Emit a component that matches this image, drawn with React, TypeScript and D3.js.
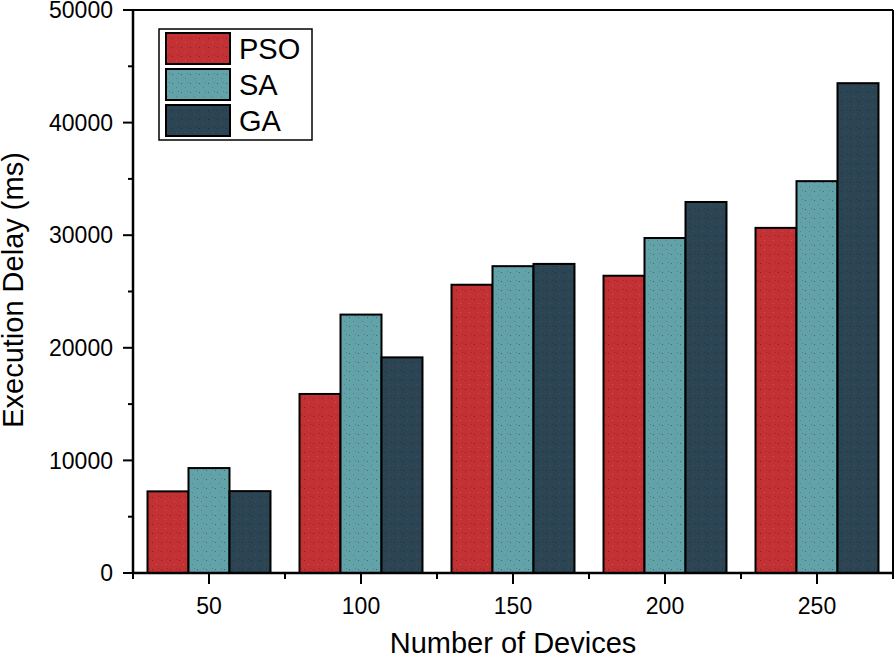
import React from "react";
import * as d3 from "d3";

const categories = ["50", "100", "150", "200", "250"];
const seriesNames = ["PSO", "SA", "GA"];
const psoValues = [7250, 15900, 25600, 26400, 30650];
const saValues = [9320, 22950, 27250, 29750, 34800];
const gaValues = [7270, 19150, 27450, 32950, 43500];
const yTicks = [0, 10000, 20000, 30000, 40000, 50000];
const yMinorTicks = [5000, 15000, 25000, 35000, 45000];
const colors = ["#c43134", "#62a2a9", "#2c4555"];

const W = 895, H = 657;
const M = { left: 133, right: 893, top: 10, bottom: 573 };
const FONT = "'Liberation Sans', Arial, Helvetica, sans-serif";

export default function App() {
  const allSeries = [psoValues, saValues, gaValues];
  const x = d3.scaleBand<string>().domain(categories).range([M.left, M.right]).paddingInner(0).paddingOuter(0);
  const xs = d3.scaleBand<string>().domain(seriesNames).range([0, x.bandwidth()]).paddingInner(0).paddingOuter(0.354);
  const y = d3.scaleLinear().domain([0, 50000]).range([M.bottom, M.top]);
  const step = x.step();
  const minorX = d3.range(categories.length + 1).map((i) => M.left + i * step);

  return (
    <svg width={W} height={H} style={{ position: "absolute", left: 0, top: 0, background: "#fff" }} fontFamily={FONT}>
      <defs>
        {colors.map((c, i) => (
          <pattern key={i} id={`pat${i}`} width={9} height={9} patternUnits="userSpaceOnUse">
            <rect width={9} height={9} fill={c} />
            <rect x={1} y={2} width={1} height={1} fill="#000" opacity={0.35} />
            <rect x={5} y={6} width={1} height={1} fill={i === 0 ? "#5fa0a6" : "#c43134"} opacity={0.5} />
            <rect x={7} y={1} width={1} height={1} fill="#000" opacity={0.2} />
          </pattern>
        ))}
      </defs>

      {/* bars */}
      {categories.map((cat, ci) => (
        <g key={cat} transform={`translate(${x(cat)},0)`}>
          {seriesNames.map((s, si) => {
            const v = allSeries[si][ci];
            return (
              <rect
                key={s}
                x={xs(s)}
                y={y(v)}
                width={xs.bandwidth()}
                height={y(0) - y(v)}
                fill={`url(#pat${si})`}
                stroke="#000"
                strokeWidth={2}
              />
            );
          })}
        </g>
      ))}

      {/* frame */}
      <line x1={M.left} x2={M.right} y1={M.top} y2={M.top} stroke="#000" strokeWidth={2} />
      <line x1={M.right} x2={M.right} y1={M.top} y2={M.bottom} stroke="#000" strokeWidth={2} />
      <line x1={M.left} x2={M.left} y1={M.top - 1} y2={M.bottom + 1} stroke="#000" strokeWidth={2.5} />
      <line x1={M.left - 1} x2={M.right + 1} y1={M.bottom} y2={M.bottom} stroke="#000" strokeWidth={2.5} />

      {/* y ticks */}
      {yTicks.map((t) => (
        <g key={t}>
          <line x1={M.left - 10} x2={M.left} y1={y(t)} y2={y(t)} stroke="#000" strokeWidth={2} />
          <text x={M.left - 20} y={y(t)} dy="0.36em" textAnchor="end" fontSize={23} fill="#000">
            {t}
          </text>
        </g>
      ))}
      {yMinorTicks.map((t) => (
        <line key={t} x1={M.left - 5} x2={M.left} y1={y(t)} y2={y(t)} stroke="#000" strokeWidth={2} />
      ))}

      {/* x ticks */}
      {categories.map((c) => {
        const cx = (x(c) as number) + x.bandwidth() / 2;
        return (
          <g key={c}>
            <line x1={cx} x2={cx} y1={M.bottom} y2={M.bottom + 11} stroke="#000" strokeWidth={2} />
            <text x={cx} y={614} textAnchor="middle" fontSize={23} fill="#000">
              {c}
            </text>
          </g>
        );
      })}
      {minorX.map((mx, i) => (
        <line key={i} x1={mx} x2={mx} y1={M.bottom} y2={M.bottom + 6} stroke="#000" strokeWidth={2} />
      ))}

      {/* axis titles */}
      <text x={513} y={653} textAnchor="middle" fontSize={29} fill="#000">
        Number of Devices
      </text>
      <text transform="translate(23,290) rotate(-90)" textAnchor="middle" fontSize={29} fill="#000">
        Execution Delay (ms)
      </text>

      {/* legend */}
      <rect x={159} y={29} width={153} height={111} fill="#fff" stroke="#000" strokeWidth={1.5} />
      {seriesNames.map((s, i) => (
        <g key={s}>
          <rect x={166} y={33 + i * 36} width={64} height={31} fill={`url(#pat${i})`} stroke="#000" strokeWidth={2} />
          <text x={239} y={33 + i * 36 + 26} fontSize={29} fill="#000">
            {s}
          </text>
        </g>
      ))}
    </svg>
  );
}
